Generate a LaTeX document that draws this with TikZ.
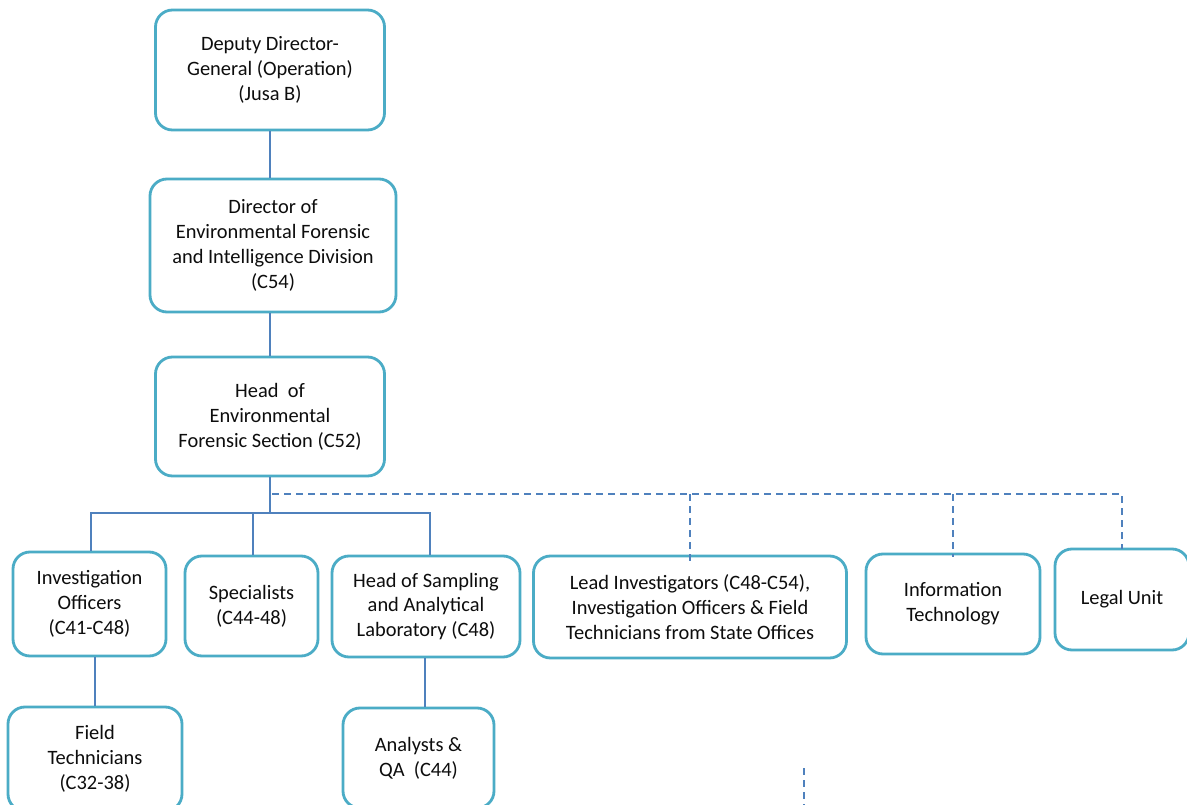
\documentclass[tikz,border=0pt]{standalone}
\usepackage{fontspec}
\setmainfont{Carlito}
\definecolor{boxline}{HTML}{4BACC6}
\definecolor{linkline}{HTML}{4F81BD}
\definecolor{txt}{HTML}{0D0D0D}
\tikzset{
  unit/.style={draw=boxline, line width=2.8bp, rounded corners=17bp, fill=white,
    align=center, inner sep=0pt, text=txt,
    font=\fontsize{20.5}{25}\selectfont},
  link/.style={draw=linkline, line width=1.7bp},
  dotlink/.style={draw=linkline, line width=1.7bp, dash pattern=on 7bp off 5bp}
}
\begin{document}
\begin{tikzpicture}[x=1bp, y=-1bp]
\clip (0,0) rectangle (1187,805);
\fill[white] (0,0) rectangle (1187,805);

% upper chain of command
\node[unit, minimum width=229bp, minimum height=120bp] (ddg) at (270,70)
  {Deputy Director-\\General (Operation)\\(Jusa B)};
\node[unit, minimum width=246bp, minimum height=133bp] (dir) at (273,245.5)
  {Director of\\Environmental Forensic\\and Intelligence Division\\(C54)};
\node[unit, minimum width=229bp, minimum height=119bp] (head) at (270,416.5)
  {Head\ \ of\\Environmental\\Forensic Section (C52)};

% units under the section head
\node[unit, minimum width=153bp, minimum height=104bp] (io) at (89.5,604)
  {Investigation\\Officers\\(C41-C48)};
\node[unit, minimum width=133bp, minimum height=100bp] (spec) at (251.5,606)
  {Specialists\\(C44-48)};
\node[unit, minimum width=188bp, minimum height=101bp] (lab) at (426,606.5)
  {Head of Sampling\\and Analytical\\Laboratory (C48)};
\node[unit, minimum width=313bp, minimum height=102bp] (lead) at (690,607)
  {Lead Investigators (C48-C54),\\Investigation Officers \& Field\\Technicians from State Offices};
\node[unit, minimum width=174bp, minimum height=100bp] (it) at (953,604)
  {Information\\Technology};
\node[unit, minimum width=134bp, minimum height=101bp] (legal) at (1122,599.5)
  {Legal Unit};

% third level
\node[unit, minimum width=174bp, minimum height=104bp] (ft) at (95,759)
  {Field\\Technicians\\(C32-38)};
\node[unit, minimum width=151bp, minimum height=100bp] (qa) at (418.5,758)
  {Analysts \&\\QA\ \ (C44)};

% bus levels
\coordinate (bus) at (270,513);
\coordinate (dbus) at (270,494);
\coordinate (s1) at (804,768);
\coordinate (s2) at (804,805);

% solid reporting lines
\draw[link] (ddg.south) -- (ddg.south |- dir.north);
\draw[link] (ddg.south |- dir.south) -- (ddg.south |- head.north);
\draw[link] (head.south) -- (head.south |- bus);
\draw[link] ([xshift=1.5bp]io.north) |- ([xshift=4bp]lab.north |- bus) -- ([xshift=4bp]lab.north);
\draw[link] ([xshift=1.5bp]spec.north) -- ([xshift=1.5bp]spec.north |- bus);
\draw[link] ([xshift=5.5bp]io.south) -- ([xshift=5.5bp]io.south |- ft.north);
\draw[link] ([xshift=-1bp]lab.south) -- ([xshift=-1bp]lab.south |- qa.north);

% dashed coordination lines
\draw[dotlink] ([xshift=2bp]head.south |- dbus) -| ([yshift=-1bp]legal.north);
\draw[dotlink] (lead.north |- dbus) -- ([yshift=-6bp]lead.north);
\draw[dotlink] (it.north |- dbus) -- ([yshift=-4bp]it.north);
\draw[dotlink] (s1) -- (s2);
\end{tikzpicture}
\end{document}
